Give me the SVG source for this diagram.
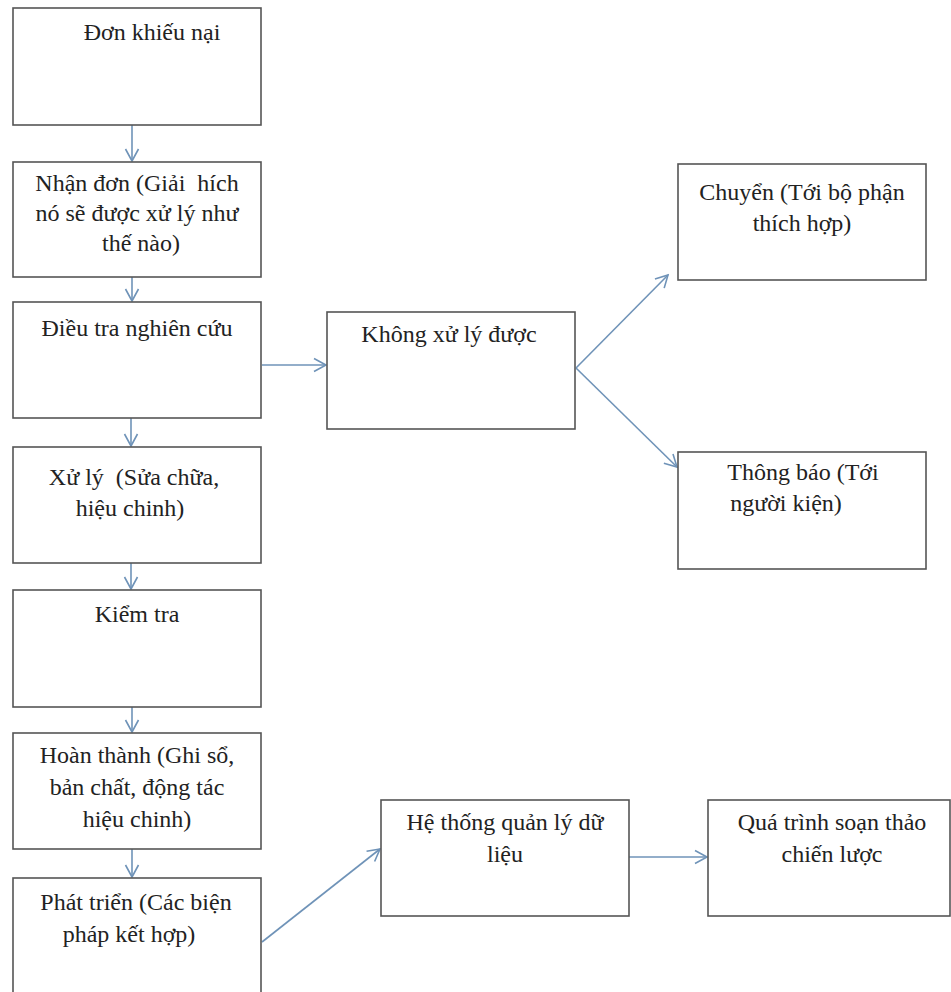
<svg xmlns="http://www.w3.org/2000/svg" width="951" height="992" viewBox="0 0 951 992">
<style>
.box{fill:#fff;stroke:#555;stroke-width:1.6}
.t{font-family:"Liberation Serif","Times New Roman",serif;font-size:24px;fill:#222;text-anchor:middle;white-space:pre}
.c{fill:none;stroke:#6f93b8;stroke-width:1.6}
</style>
<defs>
<marker id="ah" markerUnits="userSpaceOnUse" markerWidth="16" markerHeight="16" viewBox="-14 -8 16 16" refX="0" refY="0" orient="auto">
<path d="M-12,-6.5 L0,0 L-12,6.5" fill="none" stroke="#6f93b8" stroke-width="1.6"/>
</marker>
</defs>
<rect width="951" height="992" fill="#fff"/>
<g id="connectors">
<line class="c" x1="132" y1="125" x2="132" y2="161" marker-end="url(#ah)"/>
<line class="c" x1="132" y1="277" x2="132" y2="301" marker-end="url(#ah)"/>
<line class="c" x1="131" y1="418" x2="131" y2="446" marker-end="url(#ah)"/>
<line class="c" x1="131" y1="563" x2="131" y2="589" marker-end="url(#ah)"/>
<line class="c" x1="132" y1="707" x2="132" y2="732" marker-end="url(#ah)"/>
<line class="c" x1="132" y1="849" x2="132" y2="877" marker-end="url(#ah)"/>
<line class="c" x1="262" y1="365" x2="326" y2="365" marker-end="url(#ah)"/>
<line class="c" x1="576" y1="368" x2="668" y2="275" marker-end="url(#ah)"/>
<line class="c" x1="576" y1="368" x2="677" y2="467" marker-end="url(#ah)"/>
<line class="c" x1="262" y1="942" x2="380" y2="849" marker-end="url(#ah)"/>
<line class="c" x1="629" y1="857" x2="707" y2="857" marker-end="url(#ah)"/>
</g>
<g id="n1"><rect class="box" x="13" y="8" width="248" height="117"/><text class="t" x="152" y="40">Đơn khiếu nại</text></g>
<g id="n2"><rect class="box" x="13" y="162" width="248" height="115"/>
<text class="t" x="137" y="191">Nhận đơn (Giải  hích</text>
<text class="t" x="137" y="221">nó sẽ được xử lý như</text>
<text class="t" x="141" y="251">thế nào)</text></g>
<g id="n3"><rect class="box" x="13" y="302" width="248" height="116"/><text class="t" x="137" y="336">Điều tra nghiên cứu</text></g>
<g id="n4"><rect class="box" x="13" y="447" width="248" height="116"/>
<text class="t" x="134" y="485">Xử lý  (Sửa chữa,</text>
<text class="t" x="130" y="516">hiệu chinh)</text></g>
<g id="n5"><rect class="box" x="13" y="590" width="248" height="117"/><text class="t" x="137" y="622">Kiểm tra</text></g>
<g id="n6"><rect class="box" x="13" y="733" width="248" height="116"/>
<text class="t" x="137" y="763">Hoàn thành (Ghi sổ,</text>
<text class="t" x="137" y="795">bản chất, động tác</text>
<text class="t" x="137" y="827">hiệu chinh)</text></g>
<g id="n7"><rect class="box" x="13" y="878" width="248" height="130"/>
<text class="t" x="136" y="910">Phát triển (Các biện</text>
<text class="t" x="129" y="942">pháp kết hợp)</text></g>
<g id="n8"><rect class="box" x="327" y="312" width="248" height="117"/><text class="t" x="449" y="342">Không xử lý được</text></g>
<g id="n9"><rect class="box" x="678" y="164" width="248" height="116"/>
<text class="t" x="802" y="200">Chuyển (Tới bộ phận</text>
<text class="t" x="802" y="231">thích hợp)</text></g>
<g id="n10"><rect class="box" x="678" y="452" width="248" height="117"/>
<text class="t" x="803" y="480">Thông báo (Tới</text>
<text class="t" x="786" y="511">người kiện)</text></g>
<g id="n11"><rect class="box" x="381" y="800" width="248" height="116"/>
<text class="t" x="505" y="830">Hệ thống quản lý dữ</text>
<text class="t" x="505" y="862">liệu</text></g>
<g id="n12"><rect class="box" x="708" y="800" width="242" height="116"/>
<text class="t" x="832" y="830">Quá trình soạn thảo</text>
<text class="t" x="832" y="862">chiến lược</text></g>
</svg>
